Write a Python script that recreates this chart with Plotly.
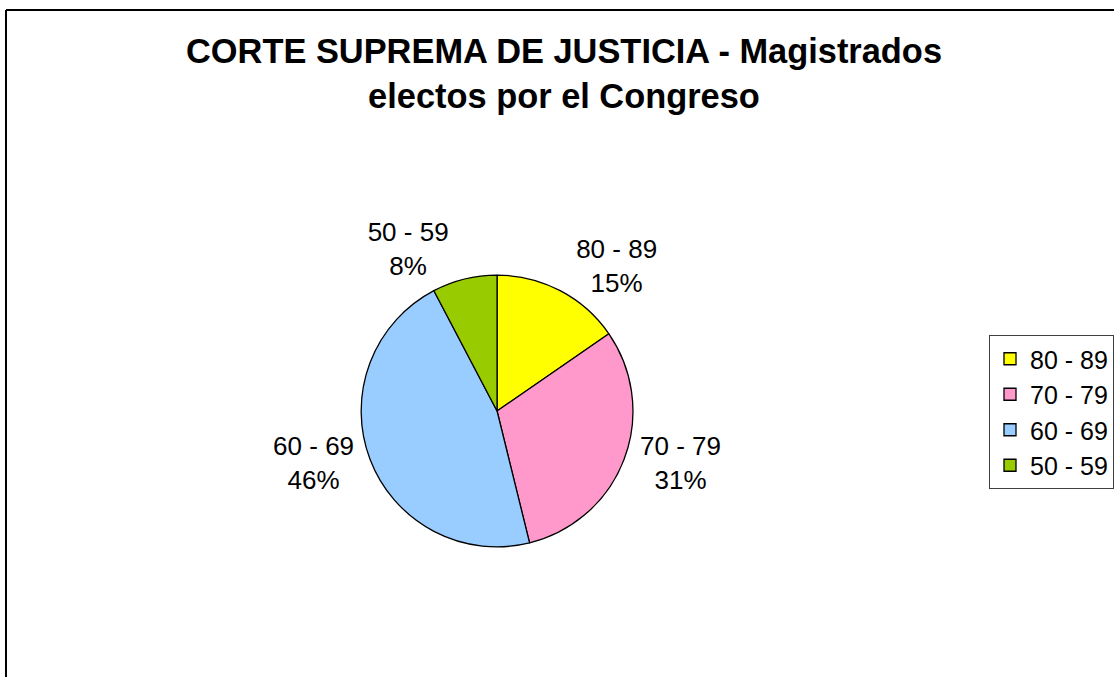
import plotly.graph_objects as go

labels = ["80 - 89", "70 - 79", "60 - 69", "50 - 59"]
values = [2, 4, 6, 1]
colors = ["#FFFF00", "#FF99CC", "#99CCFF", "#99CC00"]

W, H = 1114, 677
FONT = "Liberation Sans, Arial, sans-serif"

fig = go.Figure()
fig.add_trace(go.Pie(
    labels=labels,
    values=values,
    sort=False,
    direction="clockwise",
    rotation=0,
    marker=dict(colors=colors, line=dict(color="black", width=1.3)),
    textinfo="label+percent",
    texttemplate="%{label}<br>%{percent:.0%}",
    textposition="outside",
    textfont=dict(family=FONT, size=26, color="black"),
    domain=dict(x=[(497.5 - 136) / W, (497.5 + 136) / W],
                y=[1 - 547 / H, 1 - 275 / H]),
    hoverinfo="label+percent",
))

fig.update_layout(
    width=W, height=H,
    margin=dict(l=0, r=0, t=0, b=0),
    paper_bgcolor="white",
    plot_bgcolor="white",
    title=dict(
        text="CORTE SUPREMA DE JUSTICIA - Magistrados<br>electos por el Congreso",
        x=564 / W, xanchor="center",
        y=1 - 63 / H, yanchor="top",
        font=dict(family=FONT, size=34.4, color="black", weight="bold"),
    ),
    legend=dict(
        x=990 / W, xanchor="left",
        y=1 - 412 / H, yanchor="middle",
        bgcolor="white",
        bordercolor="#404040",
        borderwidth=1,
        font=dict(family=FONT, size=25, color="black"),
        itemwidth=30,
    ),
    showlegend=True,
    shapes=[
        dict(type="line", xref="paper", yref="paper",
             x0=6 / W, x1=6 / W, y0=-0.1, y1=1 - 10 / H,
             line=dict(color="black", width=2)),
        dict(type="line", xref="paper", yref="paper",
             x0=6 / W, x1=1.1, y0=1 - 10 / H, y1=1 - 10 / H,
             line=dict(color="black", width=2)),
    ],
)

fig.write_html("out.html", config={"displayModeBar": False},
               post_script="document.body.style.margin='0';")
